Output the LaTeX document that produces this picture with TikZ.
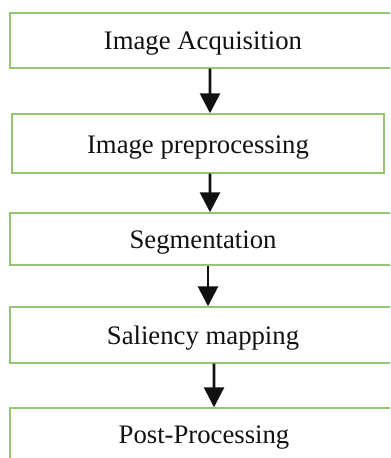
\documentclass[tikz,border=0pt]{standalone}
\usepackage{fontspec}
\setmainfont{Liberation Serif}
\usetikzlibrary{arrows.meta, positioning}
\definecolor{flowgreen}{HTML}{93C572}
\definecolor{flowdark}{HTML}{111111}
\tikzset{
  stage/.style={rectangle, draw=flowgreen, line width=1pt, fill=white,
    minimum height=1.4cm, inner sep=0pt, align=center, text=flowdark,
    text height=0.475cm, text depth=0pt,
    font=\fontsize{19}{22}\selectfont},
  arr/.style={-{Triangle[length=0.5cm, width=0.5cm]}, line width=2pt, flowdark},
}

\begin{document}
\begin{tikzpicture}[x=0.025cm, y=-0.025cm]
    \useasboundingbox (0,0) rectangle (390,458);
    \clip (0,0) rectangle (390,458);
    % Acquisition
    \node[stage, minimum width=9.65cm, minimum height=1.375cm] (acq) at (203,40.5) {Image Acquisition};
    % Preprocessing
    \node[stage, minimum width=9.3cm, minimum height=1.475cm] (pre) at (198,143.5) {Image preprocessing};
    % Segmentation
    \node[stage, minimum width=9.65cm, minimum height=1.3cm] (seg) at (203,239) {Segmentation};
    % Saliency
    \node[stage, minimum width=9.65cm, minimum height=1.4cm] (sal) at (203,335) {Saliency mapping};
    % Post-processing
    \node[stage, minimum width=9.7cm, minimum height=1.3cm] (post) at (204,434) {Post-Processing};

    \draw[arr] ([xshift=0.175cm]acq.south) -- ([xshift=0.3cm]pre.north);
    \draw[arr] ([xshift=0.3cm]pre.south) -- ([xshift=0.175cm]seg.north);
    \draw[arr] ([xshift=0.125cm]seg.south) -- ([xshift=0.125cm]sal.north);
    \draw[arr] ([xshift=0.275cm]sal.south) -- ([xshift=0.25cm]post.north);
  \end{tikzpicture}
\end{document}
